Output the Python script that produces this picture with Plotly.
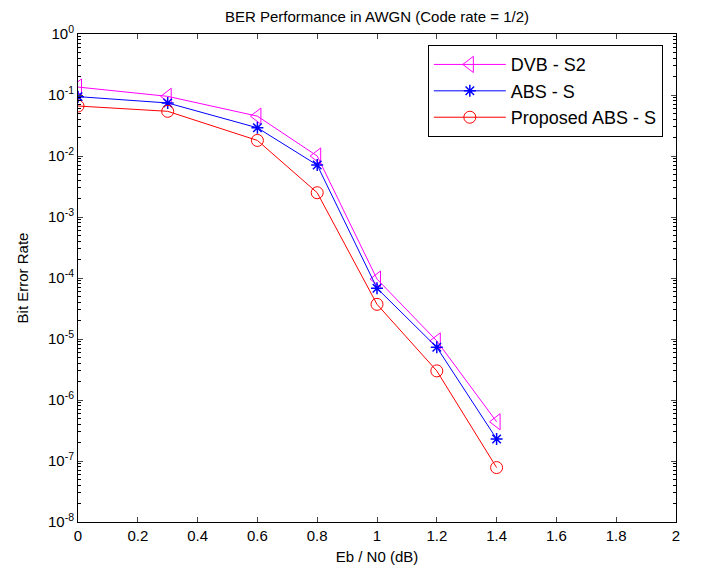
import plotly.graph_objects as go

ebn0 = [0, 0.3, 0.6, 0.8, 1.0, 1.2, 1.4]
ber_dvb_s2 = [0.135, 0.095, 0.045, 0.0100, 9.6e-5, 9.3e-6, 4.4e-7]
ber_abs_s = [0.094, 0.074, 0.029, 0.0071, 6.8e-5, 7.3e-6, 2.3e-7]
ber_proposed = [0.066, 0.054, 0.018, 0.0025, 3.7e-5, 3.0e-6, 7.8e-8]

names = ["DVB - S2", "ABS - S", "Proposed ABS - S"]
y_tickvals = [10.0 ** (-k) for k in range(0, 9)]
y_ticktext = ["10<sup>%d</sup>" % (-k) if k else "10<sup>0</sup>" for k in range(0, 9)]
y_minor_vals = [m * 10.0 ** (-k) for k in range(1, 9) for m in range(2, 10)]
x_tickvals = [0, 0.2, 0.4, 0.6, 0.8, 1, 1.2, 1.4, 1.6, 1.8, 2]
x_ticktext = ["0", "0.2", "0.4", "0.6", "0.8", "1", "1.2", "1.4", "1.6", "1.8", "2"]

font = "Liberation Sans, Arial, sans-serif"

fig = go.Figure()
fig.add_trace(go.Scatter(x=ebn0, y=ber_dvb_s2, name=names[0], mode="lines+markers",
                         legendgroup="a",
                         line=dict(color="#FF00FF", width=1),
                         marker=dict(symbol="triangle-left-open", size=14, color="#FF00FF",
                                     line=dict(width=1))))
fig.add_trace(go.Scatter(x=ebn0, y=ber_abs_s, name=names[1], mode="lines+markers",
                         legendgroup="b",
                         line=dict(color="#0000FF", width=1),
                         marker=dict(symbol="asterisk-open", size=10, color="#0000FF",
                                     line=dict(width=1.5, color="#0000FF"))))
fig.add_trace(go.Scatter(x=ebn0, y=ber_proposed, name=names[2], mode="lines+markers",
                         legendgroup="c",
                         line=dict(color="#FF0000", width=1),
                         marker=dict(symbol="circle-open", size=12, color="#FF0000",
                                     line=dict(width=1))))

# The page body has an 8px margin, so the figure is sized and offset to compensate.
fig.update_layout(
    width=686, height=561,
    margin=dict(l=70, r=18, t=26, b=47, autoexpand=False),
    paper_bgcolor="white", plot_bgcolor="white",
    font=dict(family=font, size=13, color="black"),
    title=dict(text="BER Performance in AWGN (Code rate = 1/2)", x=(377 - 8) / 686,
               xanchor="center", xref="container",
               y=1, yanchor="top", pad=dict(t=3), automargin=False, font=dict(size=15)),
    legend=dict(x=0.585, y=0.977, xanchor="left", yanchor="top",
                bordercolor="black", borderwidth=1, bgcolor="white",
                font=dict(size=18), itemwidth=72, tracegroupgap=0),
    xaxis=dict(range=[0, 2], tickvals=x_tickvals, ticktext=x_ticktext, automargin=False,
               ticks="inside", ticklen=5, showline=True, linecolor="black", linewidth=1,
               mirror="ticks", showgrid=False, zeroline=False,
               title=dict(text="Eb / N0 (dB)", standoff=8, font=dict(size=15)),
               tickfont=dict(size=15)),
    yaxis=dict(type="log", range=[-8, 0], tickvals=y_tickvals, ticktext=y_ticktext,
               automargin=False,
               ticks="inside", ticklen=5, showline=True, linecolor="black", linewidth=1,
               mirror="ticks", showgrid=False, zeroline=False,
               minor=dict(ticks="inside", ticklen=3, tickcolor="black", showgrid=False,
                          tickvals=y_minor_vals),
               title=dict(text="Bit Error Rate", standoff=15, font=dict(size=15)),
               tickfont=dict(size=15)),
)

fig.write_html("out.html")
